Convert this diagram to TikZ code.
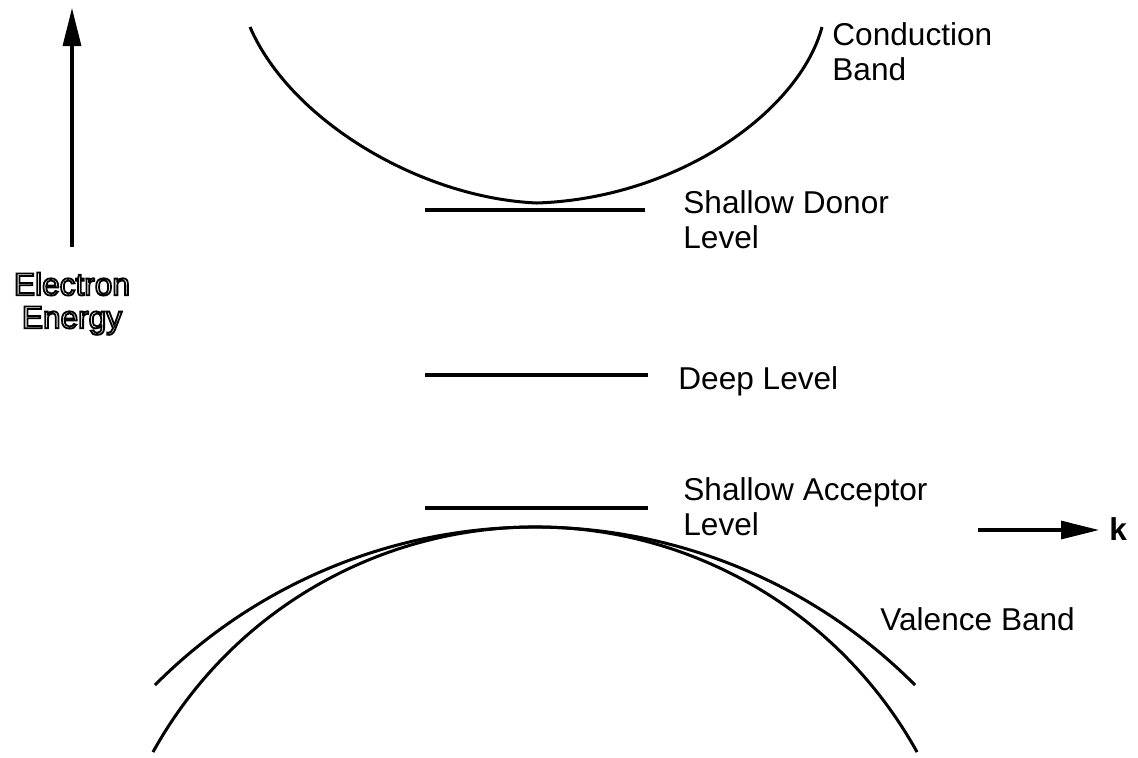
\documentclass[tikz,border=0pt]{standalone}
\usepackage{fontspec}
\setmainfont{Liberation Sans}
\usetikzlibrary{arrows.meta}
\newcommand{\outlinetext}[1]{\special{pdf:literal direct 1 Tr 0.9 w}#1\special{pdf:literal direct 0 Tr}}
\begin{document}
\begin{tikzpicture}[x=0.5pt,y=0.5pt,
  curve/.style={line width=1.5pt},
  levelline/.style={line width=1.6pt},
  axisarrow/.style={line width=1.6pt,-{Triangle[length=19pt,width=9pt]}},
  lbl/.style={inner sep=0pt,anchor=base west,font=\fontsize{15.8}{17.5}\selectfont},
  lbl2/.style={inner sep=0pt,anchor=north west,align=left,font=\fontsize{15.8}{17.5}\selectfont}]
\useasboundingbox (0,0) rectangle (1138,-757);
% energy axis
\coordinate (ebot) at (72,-247);
\coordinate (etop) at (72,-8);
\draw[axisarrow] (ebot) -- (etop);
\node[inner sep=0pt,anchor=north,align=center,font=\fontsize{15.8}{16.5}\selectfont] (elabel) at (72,-272) {\outlinetext{Electron}\\\outlinetext{Energy}};
% k axis
\coordinate (kstart) at (978,-530);
\coordinate (kend) at (1099,-530);
\draw[axisarrow] (kstart) -- (kend);
\node[inner sep=0pt,anchor=base west,font=\fontsize{15.8}{17.5}\selectfont\bfseries] (klabel) at (1109,-540) {k};
% conduction band
\draw[curve] (250,-27) .. controls (290,-120) and (420,-198) .. (537,-203)
  .. controls (680,-198) and (800,-110) .. (822,-27);
% levels
\coordinate (d1) at (425,-210); \coordinate (d2) at (645,-210);
\coordinate (m1) at (425,-375); \coordinate (m2) at (648,-375);
\coordinate (a1) at (425,-508); \coordinate (a2) at (648,-508);
\draw[levelline] (d1) -- (d2);
\draw[levelline] (m1) -- (m2);
\draw[levelline] (a1) -- (a2);
% valence bands
\draw[curve] ([shift={(151.0:436.8)}]535,-963.8) arc[start angle=151.0,end angle=29.0,radius=436.8];
\draw[curve] ([shift={(135.15:536)}]535,-1063) arc[start angle=135.15,end angle=44.85,radius=536];
% labels
\node[lbl2] (cb) at (832,-22) {Conduction\\Band};
\node[lbl2] (sd) at (683,-190) {Shallow Donor\\Level};
\node[lbl] (dl) at (678,-389) {Deep Level};
\node[lbl2] (sa) at (683,-477) {Shallow Acceptor\\Level};
\node[lbl] (vb) at (880,-630) {Valence Band};
\end{tikzpicture}
\end{document}
